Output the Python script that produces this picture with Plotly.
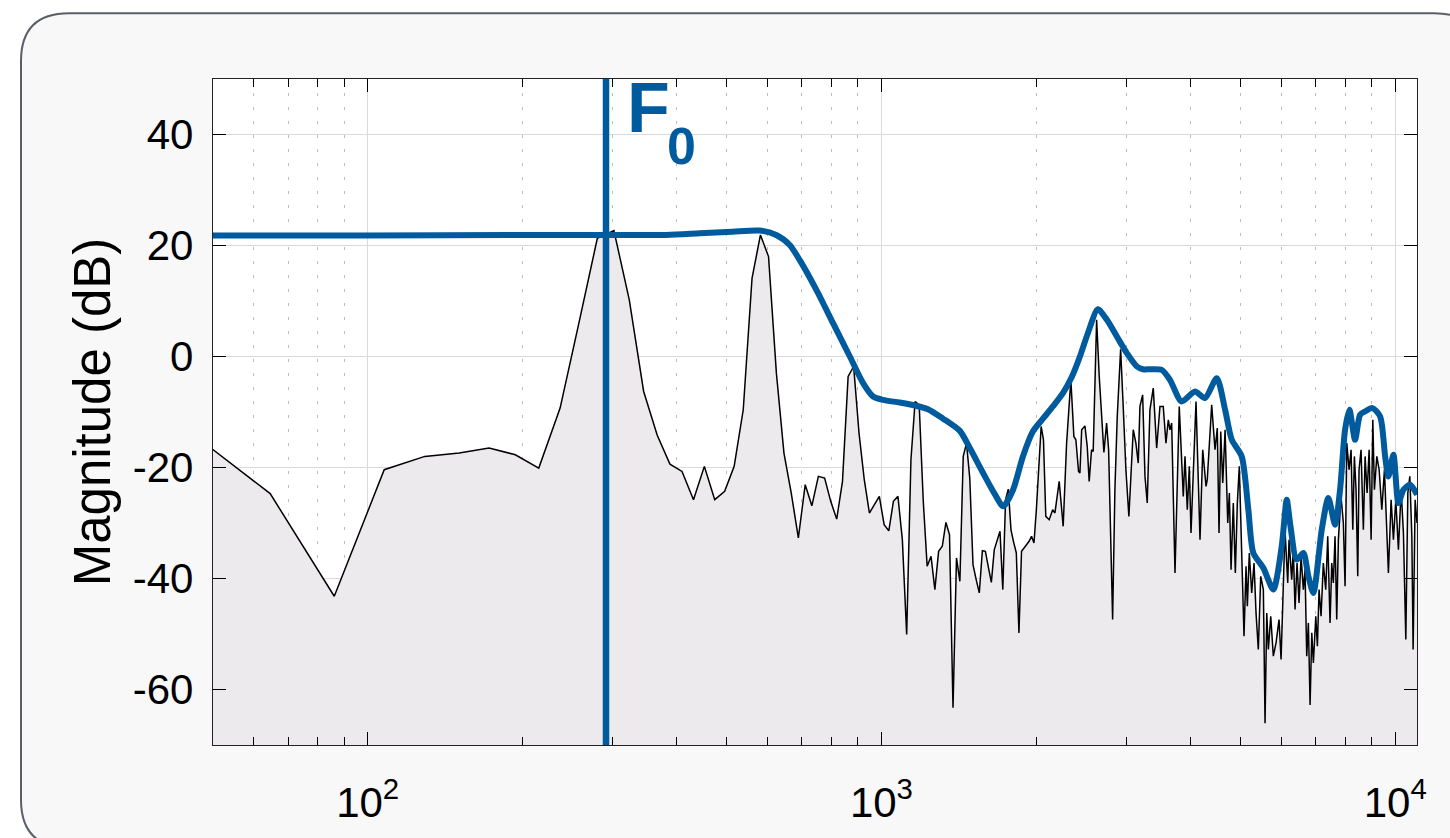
import numpy as np
import plotly.graph_objects as go

# ---------------- data ----------------
F0 = 291.0  # Hz, fundamental marker

# magnitude spectrum, resolved bins (Hz, dB)
freq_bins = [43.1, 64.6, 86.1, 107.7, 129.2, 150.7, 172.3, 193.8, 215.3, 236.9, 258.4, 279.9,
             301.5, 323.0, 344.5, 366.1, 387.6, 409.1, 430.7, 452.2, 473.7, 495.3, 516.8, 538.3,
             559.9, 581.4, 602.9, 624.5, 646.0, 667.5, 689.1, 710.6, 732.1, 753.7, 775.2, 796.7,
             818.3, 839.8, 861.3, 882.9, 904.4, 925.9, 947.5, 969.0, 990.5, 1012.1, 1033.6, 1055.1,
             1076.7, 1098.2, 1119.7, 1141.3, 1162.8, 1184.3, 1205.9, 1227.4, 1248.9, 1270.5, 1292.0,
             1313.5, 1335.1, 1356.6, 1378.1, 1399.7, 1421.2, 1442.7, 1464.3, 1485.8, 1507.3, 1528.9,
             1550.4, 1571.9, 1593.5, 1615.0, 1636.5, 1658.1, 1679.6, 1701.1, 1722.7, 1744.2, 1765.7,
             1787.3, 1808.8, 1830.3, 1851.9, 1873.4, 1894.9, 1916.5, 1938.0, 1959.5, 1981.1, 2002.6,
             2024.1, 2045.7, 2067.2, 2088.7]
db_bins = [-12.2, -24.7, -43.2, -20.4, -18.0, -17.4, -16.5, -17.7, -20.1, -9.3, 6.5, 21.3,
           22.7, 10.2, -6.3, -14.2, -19.4, -20.7, -25.8, -19.8, -25.8, -24.3, -19.8, -9.6,
           14.1, 21.9, 18.0, -3.0, -17.4, -24.6, -32.7, -23.1, -26.9, -21.6, -21.9, -26.1,
           -29.3, -22.5, -3.6, -1.8, -13.8, -22.2, -28.2, -26.7, -25.2, -30.3, -31.4, -26.1,
           -25.2, -33.0, -50.1, -18.6, -8.1, -8.7, -25.9, -37.8, -36.0, -42.0, -35.1,
           -34.2, -29.9, -32.1, -63.3, -36.3, -40.5, -18.0, -15.6, -22.0, -37.5, -40.2,
           -42.6, -35.0, -35.1, -38.0, -40.7, -34.8, -33.0, -31.5, -42.0, -25.8, -23.9,
           -31.3, -33.5, -35.4, -49.8, -35.1, -34.5, -33.9, -33.3, -32.4, -33.6, -27.5,
           -20.0, -12.6, -15.0, -28.8]

# magnitude spectrum, dense high-frequency part (Hz, dB)
freq_dense = [2121, 2154, 2176, 2218, 2258, 2293, 2337, 2369, 2390, 2419, 2434, 2453, 2489, 2515,
              2537, 2564, 2583, 2623, 2654, 2683, 2710, 2743, 2768, 2818, 2847, 2877, 2921, 2955,
              2991, 3031, 3059, 3091, 3128, 3161, 3185, 3224, 3258, 3291, 3331, 3381, 3433, 3484,
              3536, 3579, 3617, 3644, 3672, 3727, 3799, 3868, 3898, 3938, 3974, 4004, 4095, 4169,
              4220, 4283, 4307, 4393, 4459, 4505, 4540, 4575, 4616, 4665, 4721, 4755, 4791, 4840,
              4884, 4928, 4972, 5026, 5078, 5124, 5154, 5200, 5256, 5311, 5359, 5414, 5473, 5538,
              5580, 5623, 5663, 5724, 5791, 5861, 5941, 5995, 6056, 6102, 6177, 6213, 6288, 6334,
              6383, 6440, 6498, 6557, 6625, 6675, 6726, 6776, 6828, 6880, 6929, 7005, 7055, 7108,
              7172, 7245, 7324, 7390, 7467, 7524, 7578, 7636, 7694, 7751, 7844, 7926, 7987, 8048,
              8132, 8205, 8268, 8327, 8390, 8454, 8503, 8580, 8669, 8737, 8816, 8896, 8976, 9044,
              9109, 9208, 9305, 9416, 9528, 9630, 9699, 9817, 9920, 10026, 10144, 10268, 10375,
              10486, 10581, 10676, 10773, 10835, 10933, 11025]
db_dense = [-29.4, -27.6, -28.2, -22.5, -30.6, -15.6, -4.2, -14.4, -15.0, -20.7, -21.0, -13.2, -12.5, -16.2,
            -22.5, -16.8, -17.1, 6.6, -3.6, -11.7, -17.3, -12.0, -16.8, -47.4, -24.0, -10.8, 1.3, -9.0,
            -20.4, -28.8, -20.4, -13.2, -15.6, -19.2, -9.0, -6.9, -21.6, -26.4, -9.6, -5.7, -16.5, -9.0,
            -9.0, -15.6, -11.4, -13.2, -12.0, -39.0, -9.0, -25.2, -18.0, -27.6, -19.8, -31.8, -8.1, -33.0,
            -16.8, -23.4, -22.2, -8.7, -16.8, -12.9, -31.8, -13.5, -22.8, -13.2, -30.0, -24.6, -38.4, -26.4,
            -39.0, -26.4, -19.8, -37.2, -50.4, -37.8, -45.0, -35.4, -42.6, -37.2, -46.2, -52.8, -39.6, -42.0,
            -66.1, -46.2, -52.8, -46.8, -54.0, -51.6, -47.4, -54.6, -39.6, -31.2, -40.8, -33.0, -40.2, -34.8,
            -45.6, -37.2, -44.4, -36.0, -42.0, -38.4, -54.0, -48.0, -62.8, -49.8, -55.2, -46.8, -52.2, -42.0,
            -46.8, -37.2, -42.0, -32.4, -48.0, -37.2, -40.8, -32.4, -47.4, -33.0, -25.2, -30.0, -41.4, -15.6,
            -20.4, -16.8, -31.2, -18.0, -24.0, -39.6, -20.4, -16.8, -31.2, -18.0, -24.6, -16.8, -33.0, -11.4,
            -24.0, -18.0, -20.4, -27.6, -20.4, -30.0, -39.0, -25.8, -33.0, -25.8, -34.8, -24.0, -31.8,
            -51.0, -24.6, -21.6, -32.4, -52.8, -25.8, -30.0]

# spectral envelope (Hz, dB)
freq_env = [50, 100, 200, 290, 381, 443, 513, 579, 624, 663, 693, 747, 805, 868, 921, 963, 1007,
            1085, 1170, 1232, 1318, 1421, 1486, 1577, 1662, 1726, 1804, 1885, 1971, 2062, 2156,
            2255, 2349, 2434, 2522, 2638, 2747, 2872, 3004, 3142, 3228, 3331, 3511, 3644, 3840,
            4076, 4263, 4494, 4665, 4807, 5026, 5177, 5294, 5538, 5791, 6013, 6150, 6241, 6432,
            6625, 6776, 6929, 7194, 7410, 7636, 7810, 7987, 8143, 8353, 8543, 8737, 9028, 9346,
            9557, 9699, 9920, 10144, 10375, 10690, 11025]
db_env = [21.8, 21.8, 21.9, 21.9, 21.9, 22.2, 22.5, 22.7, 21.9, 20.1, 17.4, 12.0, 6.0, 0.0, -4.8, -7.2, -7.8,
          -8.3, -8.9, -9.5, -11.2, -13.4, -16.5, -21.0, -24.8, -27.0, -24.0, -18.0, -13.5, -11.2, -9.0,
          -6.6, -3.6, 0.0, 4.2, 8.5, 6.6, 3.6, 0.6, -1.8, -2.3, -2.3, -2.4, -4.2, -8.1,
          -6.3, -7.5, -3.9, -9.6, -15.0, -18.0, -27.6, -35.4, -38.1, -42.0, -34.2, -25.8, -30.0, -36.6,
          -35.4, -39.6, -42.6, -31.2, -25.5, -30.3, -24.0, -13.2, -9.6, -15.0, -10.5, -9.9, -9.3, -10.8,
          -18.0, -21.6, -17.7, -26.4, -24.0, -23.1, -24.9]

y_ticks = [-60, -40, -20, 0, 20, 40]
y_ticklabels = ["-60", "-40", "-20", "0", "20", "40"]
x_ticks = [100, 1000, 10000]
x_ticklabels = ["10<sup>2</sup>", "10<sup>3</sup>", "10<sup>4</sup>"]
x_minor = [60, 70, 80, 90, 200, 300, 400, 500, 600, 700, 800, 900,
           2000, 3000, 4000, 5000, 6000, 7000, 8000, 9000]
X_RANGE = (50, 11025)
Y_RANGE = (-70, 50)

# ---------------- styling ----------------
BLUE = "#005a9e"
FILL = "#edeaee"
FONT = "Liberation Sans, Arial, Helvetica, sans-serif"
W, H = 1450, 838
ML, MR, MT, MB = 213, 33, 79, 91

freq_black = freq_bins + freq_dense
db_black = db_bins + db_dense

fig = go.Figure()
# baseline for the fill
fig.add_trace(go.Scatter(x=[freq_black[0], freq_black[-1]], y=[Y_RANGE[0], Y_RANGE[0]],
                         mode="lines", line=dict(width=0, color=FILL),
                         hoverinfo="skip", showlegend=False))
fig.add_trace(go.Scatter(x=freq_black, y=db_black, mode="lines", fill="tonexty",
                         fillcolor=FILL, line=dict(color="black", width=1.5),
                         showlegend=False))
fig.add_trace(go.Scatter(x=freq_env, y=db_env, mode="lines",
                         line=dict(color=BLUE, width=6, shape="spline", smoothing=0.7),
                         showlegend=False))
fig.add_trace(go.Scatter(x=[F0, F0], y=list(Y_RANGE), mode="lines",
                         line=dict(color=BLUE, width=6.5), showlegend=False))

pw, ph = W - ML - MR, H - MT - MB
def px(x):
    return (x - ML) / pw
def py(y):
    return (H - MB - y) / ph

L, T, R, B, r = 21, 13, 1482, 850, 48
path = (f"M {px(L + r)},{py(T)} L {px(R - r)},{py(T)} Q {px(R)},{py(T)} {px(R)},{py(T + r)} "
        f"L {px(R)},{py(B - r)} Q {px(R)},{py(B)} {px(R - r)},{py(B)} "
        f"L {px(L + r)},{py(B)} Q {px(L)},{py(B)} {px(L)},{py(B - r)} "
        f"L {px(L)},{py(T + r)} Q {px(L)},{py(T)} {px(L + r)},{py(T)} Z")

fig.update_layout(
    width=W, height=H,
    margin=dict(l=ML, r=MR, t=MT, b=MB),
    paper_bgcolor="white", plot_bgcolor="white",
    font=dict(family=FONT, color="black"),
    shapes=[
        dict(type="path", path=path, xref="paper", yref="paper", layer="below",
             fillcolor="#f8f8f8", line=dict(color="#5a5f66", width=2)),
        dict(type="rect", xref="paper", yref="paper", x0=0, x1=1, y0=0, y1=1,
             layer="below", fillcolor="white", line=dict(width=0)),
    ],
    annotations=[
        dict(text="<b>F</b>", xref="x", yref="paper", x=np.log10(F0), y=py(108),
             xshift=42, xanchor="center", yanchor="middle", showarrow=False,
             font=dict(family=FONT, size=70, color=BLUE)),
        dict(text="<b>0</b>", xref="x", yref="paper", x=np.log10(F0), y=py(146.5),
             xshift=75, xanchor="center", yanchor="middle", showarrow=False,
             font=dict(family=FONT, size=52, color=BLUE)),
    ],
)

fig.update_xaxes(
    type="log", range=[np.log10(X_RANGE[0]), np.log10(X_RANGE[1])],
    tickmode="array", tickvals=x_ticks, ticktext=x_ticklabels,
    ticks="inside", ticklen=13, tickwidth=1.3, tickcolor="black",
    showline=True, linecolor="#222222", linewidth=1.3, mirror="ticks",
    showgrid=True, gridcolor="#dadada", gridwidth=1.3, zeroline=False,
    tickfont=dict(family=FONT, size=42, color="black"), ticklabelstandoff=20,
    minor=dict(tickmode="array", tickvals=x_minor, ticks="inside", ticklen=8,
               tickwidth=1.2, tickcolor="black", showgrid=True,
               gridcolor="#bdbdbd", gridwidth=1.3, griddash="3px,11px"),
)
fig.update_yaxes(
    range=list(Y_RANGE), tickmode="array", tickvals=y_ticks, ticktext=y_ticklabels,
    ticks="inside", ticklen=13, tickwidth=1.3, tickcolor="black",
    showline=True, linecolor="#222222", linewidth=1.3, mirror="ticks",
    showgrid=True, gridcolor="#dadada", gridwidth=1.3, zeroline=False,
    tickfont=dict(family=FONT, size=42, color="black"), ticklabelstandoff=10,
    title=dict(text="Magnitude (dB)", font=dict(family=FONT, size=51, color="black"),
               standoff=5),
)

fig.write_html("out.html", config={"displayModeBar": False},
               post_script="document.body.style.margin='0';")
